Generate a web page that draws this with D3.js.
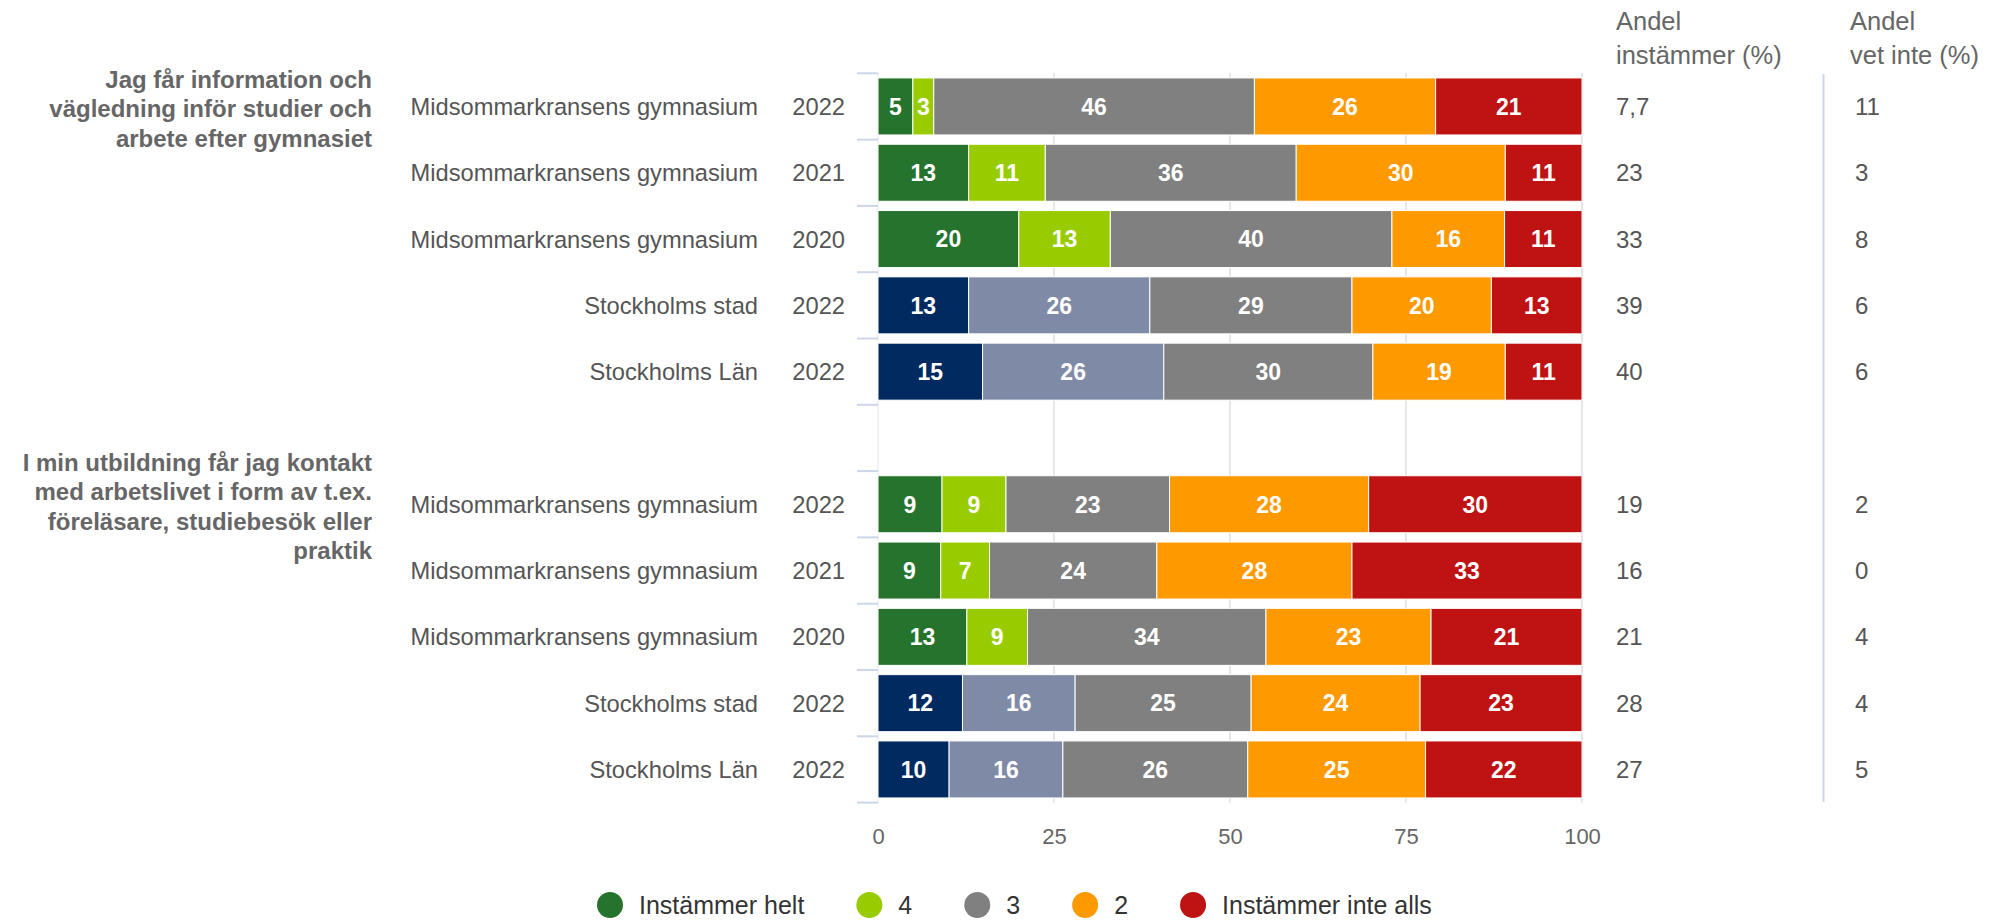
<!DOCTYPE html>
<html>
<head>
<meta charset="utf-8">
<script src="https://cdn.jsdelivr.net/npm/d3@7"></script>
<style>
  body { margin: 0; background: #fff; }
  text { font-family: "Liberation Sans", Arial, Helvetica, sans-serif; }
</style>
</head>
<body>
<div id="container"></div>
<script>
/* CONSTANTS AND GLOBALS */
const width = 1996,
  height = 921;

/* DATA */
const questionLines = [
  ["Jag får information och", "vägledning inför studier och", "arbete efter gymnasiet"],
  ["I min utbildning får jag kontakt", "med arbetslivet i form av t.ex.", "föreläsare, studiebesök eller", "praktik"]
];

const units = [
  "Midsommarkransens gymnasium", "Midsommarkransens gymnasium", "Midsommarkransens gymnasium",
  "Stockholms stad", "Stockholms Län",
  "Midsommarkransens gymnasium", "Midsommarkransens gymnasium", "Midsommarkransens gymnasium",
  "Stockholms stad", "Stockholms Län"
];
const years = ["2022", "2021", "2020", "2022", "2022", "2022", "2021", "2020", "2022", "2022"];

const seriesNames = ["Instämmer helt", "4", "3", "2", "Instämmer inte alls"];
// shares (labels show them rounded)
const instammerHelt = [5, 13, 20, 13, 15, 9, 9, 12.6, 12, 10];
const fyra = [3, 11, 13, 26, 26, 9, 7, 8.6, 16, 16];
const tre = [46, 36, 40, 29, 30, 23, 24, 33.8, 25, 26];
const tva = [26, 30, 16, 20, 19, 28, 28, 23.4, 24, 25];
const instammerInteAlls = [21, 11, 11, 13, 11, 30, 33, 21.4, 23, 22];

const andelInstammer = ["7,7", "23", "33", "39", "40", "19", "16", "21", "28", "27"];
const andelVetInte = ["11", "3", "8", "6", "6", "2", "0", "4", "4", "5"];

const xTicks = [0, 25, 50, 75, 100];

// colours
const schoolColors = ["#26732d", "#99cc00", "#808080", "#ff9900", "#bf1213"];
const regionColors = ["#002a60", "#7f8ba6", "#808080", "#ff9900", "#bf1213"];

// rows 0-4 and 6-10 (band 5 is the gap between the two questions)
const bandOf = i => (i < 5 ? i : i + 1);

const svg = d3.select("#container")
  .append("svg")
  .attr("width", width)
  .attr("height", height);

// SCALES
const x = d3.scaleLinear().domain([0, 100]).range([878, 1582]);
const y = d3.scaleBand().domain(d3.range(11)).range([73.3, 802.6]);
const barH = 57;

// GRID
svg.selectAll("line.grid")
  .data(xTicks.slice(1))
  .join("line")
  .attr("class", "grid")
  .attr("x1", d => x(d)).attr("x2", d => x(d))
  .attr("y1", y.range()[0]).attr("y2", y.range()[1])
  .attr("stroke", "#e6e6e6")
  .attr("stroke-width", 2);

// LEFT AXIS LINE + TICKS AT BAND EDGES
svg.append("line")
  .attr("x1", x(0)).attr("x2", x(0))
  .attr("y1", y.range()[0]).attr("y2", y.range()[1])
  .attr("stroke", "#e6e6e6").attr("stroke-width", 1);

svg.selectAll("line.ytick")
  .data(d3.range(12))
  .join("line")
  .attr("class", "ytick")
  .attr("x1", 857).attr("x2", x(0))
  .attr("y1", d => y.range()[0] + d * y.bandwidth())
  .attr("y2", d => y.range()[0] + d * y.bandwidth())
  .attr("stroke", "#ccd6eb").attr("stroke-width", 2);

// X AXIS
const xAxis = svg.append("g")
  .attr("transform", `translate(0, ${y.range()[1]})`)
  .call(d3.axisBottom(x).tickValues(xTicks).tickSize(0).tickPadding(26));
xAxis.select(".domain").remove();
xAxis.selectAll("text")
  .attr("font-size", 22)
  .attr("fill", "#666")
  .attr("font-family", "Liberation Sans, Arial, sans-serif");

// STACKED BARS
const rows = units.map((u, i) => {
  const vals = [instammerHelt[i], fyra[i], tre[i], tva[i], instammerInteAlls[i]];
  const total = d3.sum(vals);
  let acc = 0;
  const segs = vals.map((v, k) => {
    const s = { k, v, x0: acc / total * 100, x1: (acc + v) / total * 100 };
    acc += v;
    return s;
  });
  return { i, band: bandOf(i), region: u.startsWith("Stockholms"), segs };
});

const rowG = svg.selectAll("g.row")
  .data(rows)
  .join("g")
  .attr("class", "row")
  .attr("transform", d => `translate(0, ${y(d.band) + (y.bandwidth() - barH) / 2})`);

rowG.selectAll("rect")
  .data(d => d.segs.map(s => ({ ...s, region: d.region })))
  .join("rect")
  .attr("x", s => x(s.x0))
  .attr("width", s => x(s.x1) - x(s.x0))
  .attr("y", 0)
  .attr("height", barH)
  .attr("fill", s => (s.region ? regionColors : schoolColors)[s.k])
  .attr("stroke", "#fff")
  .attr("stroke-width", 1);

rowG.selectAll("text.lbl")
  .data(d => d.segs)
  .join("text")
  .attr("class", "lbl")
  .attr("x", s => (x(s.x0) + x(s.x1)) / 2)
  .attr("y", barH / 2)
  .attr("dy", "0.36em")
  .attr("text-anchor", "middle")
  .attr("font-size", 23)
  .attr("font-weight", "bold")
  .attr("fill", "#fff")
  .text(s => Math.round(s.v));

// ROW LABELS
const labelG = svg.selectAll("g.rlabel")
  .data(rows)
  .join("g")
  .attr("class", "rlabel")
  .attr("transform", d => `translate(0, ${y(d.band) + y.bandwidth() / 2})`);

labelG.append("text")
  .attr("x", 758)
  .attr("dy", "0.36em")
  .attr("text-anchor", "end")
  .attr("font-size", 23.7)
  .attr("fill", "#555")
  .text(d => units[d.i]);

labelG.append("text")
  .attr("x", 845)
  .attr("dy", "0.36em")
  .attr("text-anchor", "end")
  .attr("font-size", 23.7)
  .attr("fill", "#555")
  .text(d => years[d.i]);

labelG.append("text")
  .attr("x", 1616)
  .attr("dy", "0.36em")
  .attr("font-size", 24)
  .attr("fill", "#555")
  .text(d => andelInstammer[d.i]);

labelG.append("text")
  .attr("x", 1855)
  .attr("dy", "0.36em")
  .attr("font-size", 24)
  .attr("fill", "#555")
  .text(d => andelVetInte[d.i]);

// QUESTION LABELS
const qStart = [0, 6];
questionLines.forEach((lines, q) => {
  const cy = y(qStart[q]) + y.bandwidth() / 2 + 2;
  const lh = 29.5;
  svg.append("g")
    .selectAll("text")
    .data(lines)
    .join("text")
    .attr("x", 372)
    .attr("y", (d, j) => cy + (j - (lines.length - 1) / 2) * lh)
    .attr("dy", "0.36em")
    .attr("text-anchor", "end")
    .attr("font-size", 24)
    .attr("font-weight", "bold")
    .attr("fill", "#666")
    .text(d => d);
});

// COLUMN HEADERS
const headers = [
  { x: 1616, lines: ["Andel", "instämmer (%)"] },
  { x: 1850, lines: ["Andel", "vet inte (%)"] }
];
headers.forEach(h => {
  svg.append("g")
    .selectAll("text")
    .data(h.lines)
    .join("text")
    .attr("x", h.x)
    .attr("y", (d, j) => 30 + j * 34)
    .attr("font-size", 25.5)
    .attr("fill", "#666")
    .text(d => d);
});

// divider between the two value columns
svg.append("line")
  .attr("x1", 1823.5).attr("x2", 1823.5)
  .attr("y1", 74).attr("y2", 802)
  .attr("stroke", "#ccd6eb").attr("stroke-width", 2);

// LEGEND
const legend = svg.append("g").attr("transform", "translate(0, 905)");
let lx = 597;
seriesNames.forEach((name, k) => {
  const item = legend.append("g").attr("transform", `translate(${lx}, 0)`);
  item.append("circle")
    .attr("cx", 13).attr("cy", 0).attr("r", 13)
    .attr("fill", schoolColors[k]);
  const t = item.append("text")
    .attr("x", 42)
    .attr("y", 9)
    .attr("font-size", 25)
    .attr("fill", "#333")
    .text(name);
  lx += 42 + t.node().getComputedTextLength() + 52;
});
</script>
</body>
</html>
